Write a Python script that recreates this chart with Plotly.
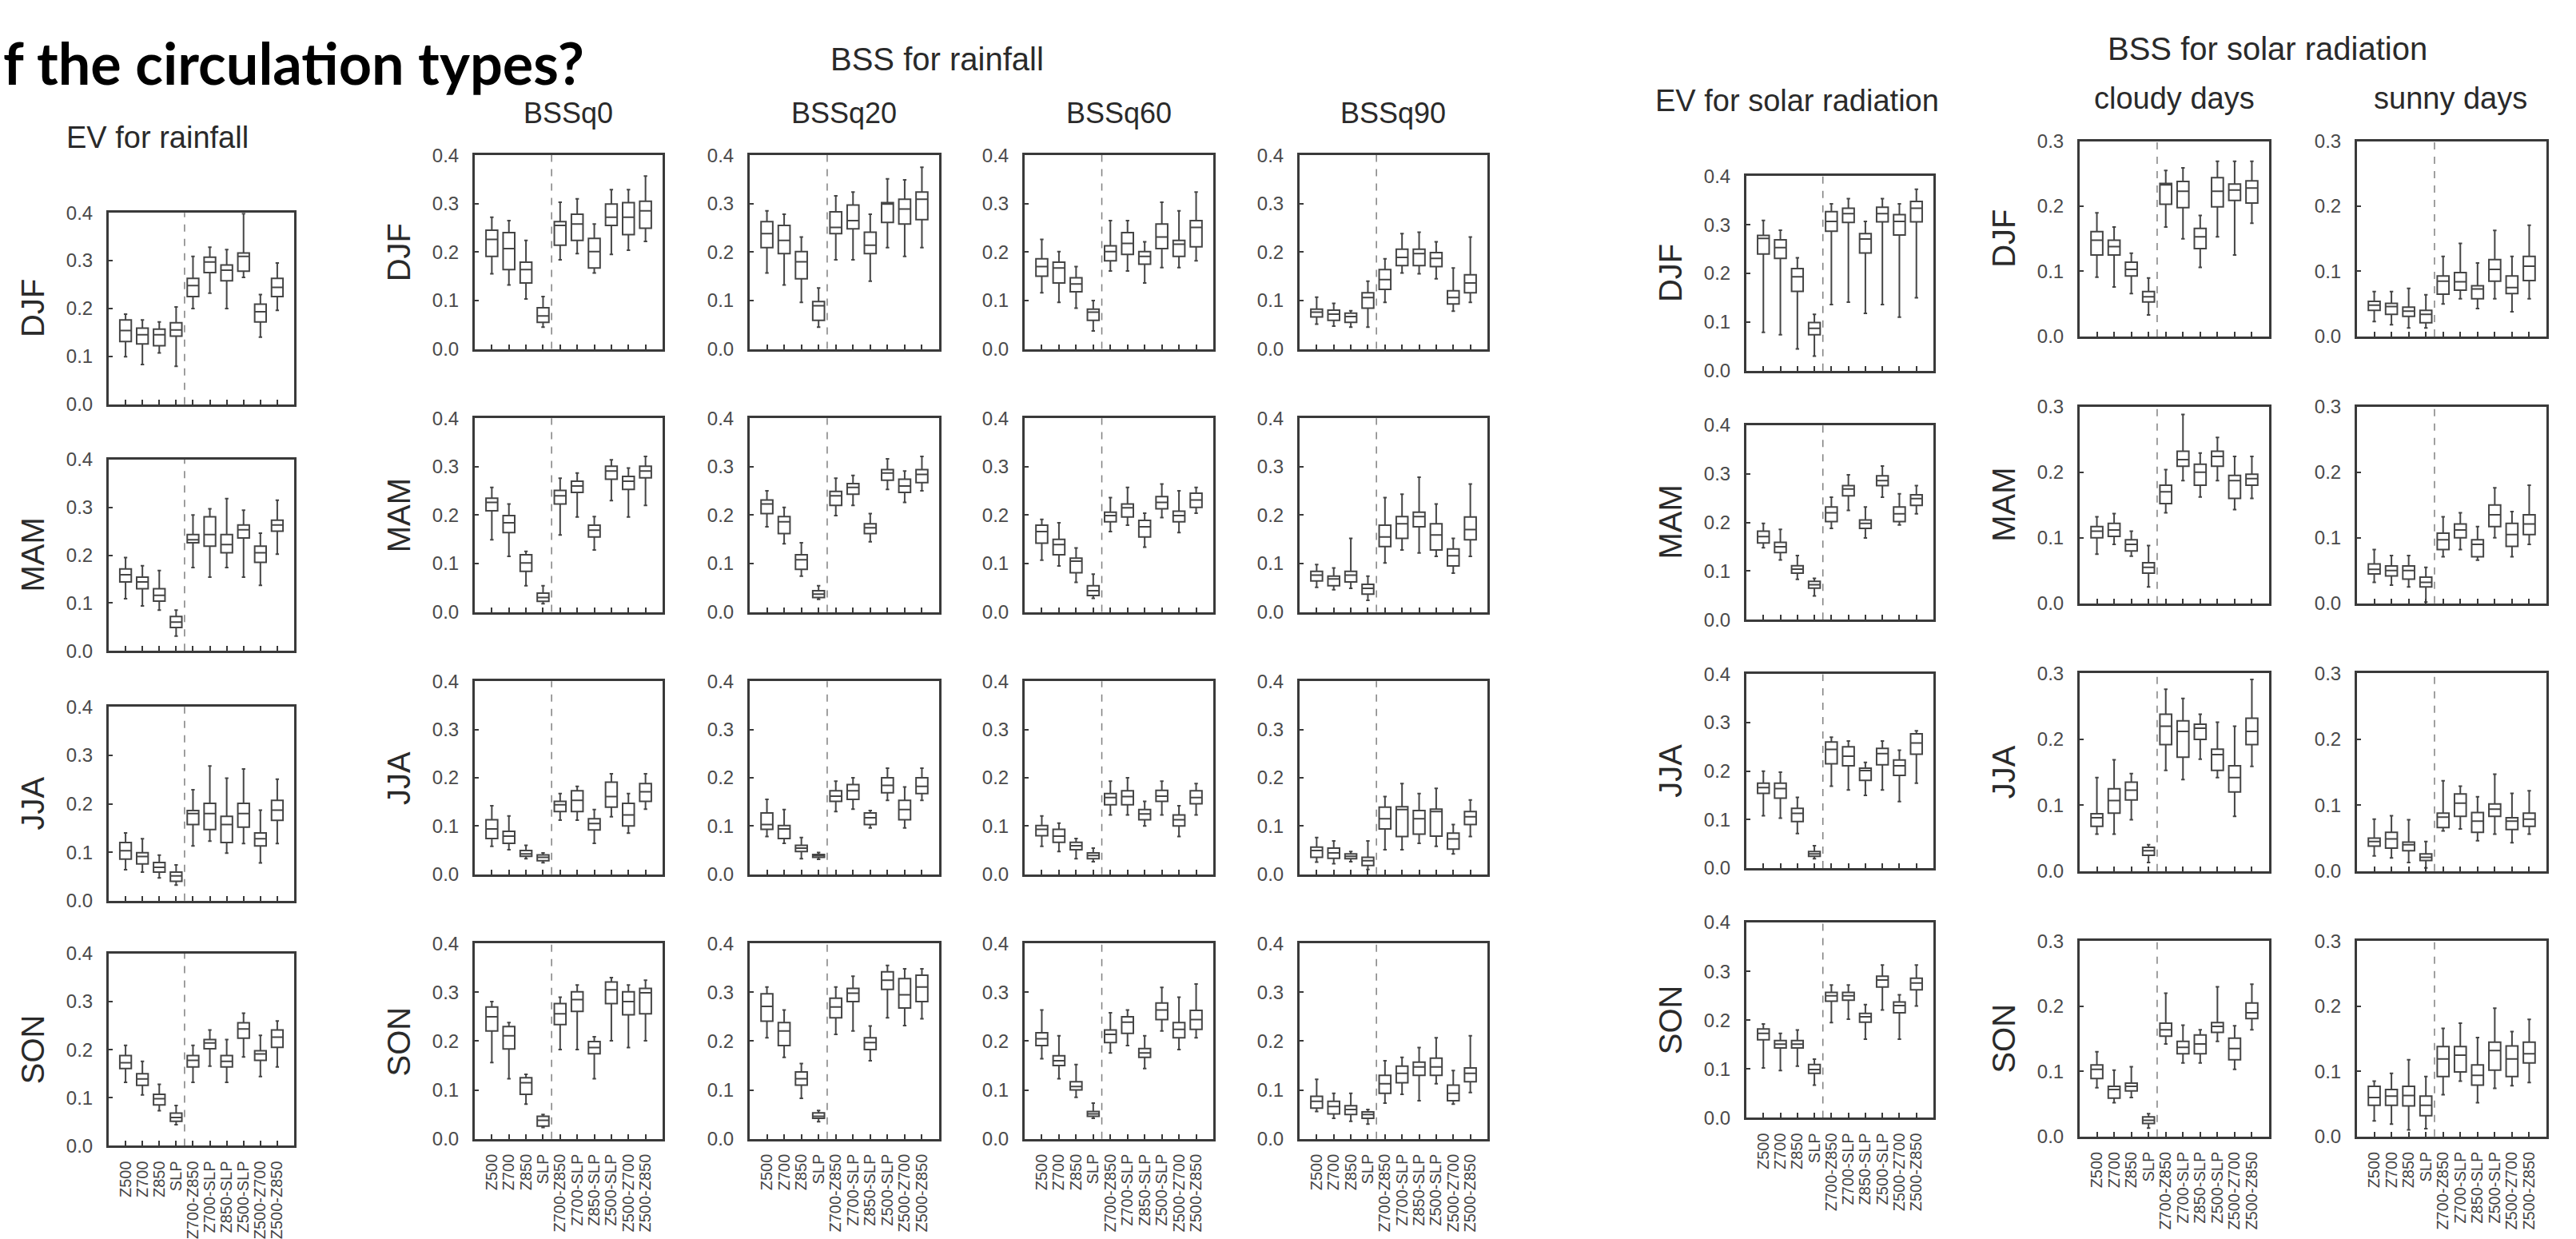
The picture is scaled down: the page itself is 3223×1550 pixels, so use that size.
import plotly.graph_objects as go

W, H = 3223, 1550

categories = ["Z500", "Z700", "Z850", "SLP", "Z700-Z850", "Z700-SLP",
              "Z850-SLP", "Z500-SLP", "Z500-Z700", "Z500-Z850"]
y_ticks_04 = [0.0, 0.1, 0.2, 0.3, 0.4]
y_ticks_03 = [0.0, 0.1, 0.2, 0.3]
seasons = ["DJF", "MAM", "JJA", "SON"]

# each row: (lower whisker, q1, median, q3, upper whisker)
ev_rain_djf = [(0.099,0.131,0.154,0.176,0.188),(0.083,0.126,0.145,0.159,0.176),(0.107,0.122,0.145,0.157,0.172),(0.079,0.142,0.155,0.170,0.203),(0.200,0.225,0.248,0.263,0.309),(0.232,0.275,0.297,0.307,0.328),(0.200,0.258,0.280,0.291,0.323),(0.265,0.278,0.309,0.316,0.398),(0.140,0.172,0.193,0.209,0.229),(0.196,0.225,0.244,0.263,0.295)]
ev_rain_mam = [(0.109,0.144,0.159,0.171,0.195),(0.094,0.130,0.144,0.154,0.178),(0.085,0.104,0.116,0.130,0.168),(0.031,0.049,0.060,0.072,0.085),(0.174,0.226,0.232,0.243,0.284),(0.154,0.219,0.243,0.280,0.297),(0.174,0.205,0.222,0.243,0.318),(0.154,0.236,0.253,0.263,0.294),(0.137,0.185,0.205,0.219,0.246),(0.202,0.250,0.263,0.273,0.315)]
ev_rain_jja = [(0.064,0.086,0.103,0.120,0.140),(0.059,0.076,0.091,0.099,0.128),(0.047,0.059,0.069,0.079,0.094),(0.032,0.040,0.051,0.059,0.074),(0.113,0.157,0.180,0.186,0.229),(0.123,0.147,0.180,0.201,0.278),(0.098,0.120,0.157,0.174,0.253),(0.118,0.152,0.180,0.201,0.272),(0.078,0.113,0.128,0.140,0.187),(0.118,0.166,0.187,0.207,0.251)]
ev_rain_son = [(0.132,0.161,0.173,0.188,0.209),(0.106,0.126,0.139,0.150,0.176),(0.073,0.085,0.098,0.107,0.128),(0.044,0.051,0.059,0.068,0.084),(0.132,0.164,0.178,0.188,0.209),(0.166,0.202,0.214,0.221,0.241),(0.132,0.164,0.176,0.188,0.221),(0.185,0.224,0.243,0.256,0.276),(0.144,0.178,0.191,0.198,0.230),(0.164,0.205,0.226,0.241,0.260)]

bss_q0_djf = [(0.155,0.191,0.226,0.245,0.272),(0.132,0.164,0.207,0.240,0.265),(0.103,0.136,0.164,0.179,0.224),(0.045,0.055,0.068,0.085,0.108),(0.184,0.214,0.255,0.263,0.303),(0.197,0.224,0.258,0.278,0.310),(0.157,0.167,0.201,0.228,0.258),(0.195,0.255,0.272,0.299,0.329),(0.204,0.236,0.272,0.302,0.329),(0.222,0.249,0.285,0.305,0.357)]
bss_q0_mam = [(0.149,0.209,0.226,0.235,0.257),(0.115,0.164,0.184,0.199,0.223),(0.054,0.084,0.101,0.118,0.125),(0.017,0.022,0.030,0.039,0.054),(0.159,0.223,0.240,0.251,0.276),(0.196,0.247,0.260,0.270,0.287),(0.128,0.155,0.169,0.179,0.197),(0.230,0.274,0.291,0.301,0.314),(0.196,0.253,0.270,0.280,0.297),(0.220,0.277,0.291,0.301,0.321)]
bss_q0_jja = [(0.058,0.074,0.094,0.113,0.142),(0.051,0.064,0.079,0.089,0.121),(0.032,0.037,0.042,0.049,0.060),(0.024,0.028,0.035,0.040,0.044),(0.112,0.130,0.144,0.151,0.167),(0.112,0.130,0.153,0.173,0.182),(0.064,0.092,0.105,0.115,0.134),(0.119,0.139,0.161,0.191,0.208),(0.085,0.100,0.123,0.147,0.167),(0.135,0.151,0.171,0.188,0.208)]
bss_q0_son = [(0.156,0.221,0.250,0.270,0.281),(0.123,0.184,0.211,0.230,0.238),(0.071,0.091,0.115,0.125,0.132),(0.023,0.026,0.038,0.046,0.050),(0.183,0.234,0.256,0.277,0.290),(0.183,0.261,0.285,0.301,0.315),(0.123,0.174,0.187,0.199,0.209),(0.201,0.277,0.305,0.321,0.330),(0.187,0.254,0.281,0.301,0.315),(0.201,0.256,0.299,0.308,0.325)]

bss_q20_djf = [(0.157,0.209,0.238,0.263,0.285),(0.132,0.197,0.224,0.255,0.278),(0.096,0.145,0.180,0.201,0.231),(0.045,0.059,0.089,0.098,0.126),(0.184,0.238,0.251,0.283,0.316),(0.184,0.248,0.265,0.297,0.324),(0.140,0.197,0.214,0.241,0.278),(0.209,0.261,0.299,0.302,0.351),(0.191,0.258,0.289,0.309,0.349),(0.209,0.267,0.309,0.324,0.375)]
bss_q20_mam = [(0.176,0.203,0.223,0.231,0.250),(0.141,0.162,0.186,0.197,0.216),(0.074,0.088,0.108,0.118,0.143),(0.026,0.030,0.037,0.044,0.054),(0.199,0.220,0.240,0.249,0.276),(0.220,0.243,0.257,0.265,0.282),(0.145,0.162,0.174,0.182,0.203),(0.253,0.272,0.287,0.294,0.316),(0.226,0.247,0.260,0.274,0.291),(0.250,0.267,0.284,0.294,0.321)]
bss_q20_jja = [(0.078,0.093,0.103,0.127,0.155),(0.064,0.074,0.094,0.101,0.134),(0.032,0.047,0.054,0.060,0.076),(0.031,0.035,0.039,0.041,0.045),(0.130,0.151,0.162,0.173,0.193),(0.135,0.155,0.173,0.186,0.200),(0.096,0.103,0.117,0.127,0.132),(0.153,0.169,0.184,0.200,0.220),(0.096,0.113,0.134,0.153,0.181),(0.153,0.167,0.182,0.200,0.220)]
bss_q20_son = [(0.207,0.241,0.271,0.297,0.311),(0.167,0.191,0.221,0.238,0.264),(0.083,0.110,0.123,0.137,0.154),(0.035,0.042,0.046,0.053,0.058),(0.214,0.248,0.270,0.288,0.311),(0.221,0.281,0.298,0.308,0.333),(0.160,0.183,0.197,0.207,0.231),(0.248,0.306,0.325,0.342,0.355),(0.232,0.268,0.295,0.328,0.348),(0.246,0.281,0.311,0.335,0.348)]

bss_q60_djf = [(0.116,0.150,0.170,0.186,0.226),(0.096,0.136,0.167,0.179,0.201),(0.084,0.118,0.134,0.147,0.170),(0.037,0.059,0.076,0.082,0.100),(0.161,0.182,0.201,0.213,0.265),(0.161,0.195,0.218,0.240,0.265),(0.136,0.175,0.191,0.201,0.221),(0.168,0.207,0.231,0.258,0.303),(0.168,0.191,0.216,0.224,0.285),(0.182,0.211,0.251,0.265,0.324)]
bss_q60_mam = [(0.107,0.142,0.166,0.179,0.191),(0.095,0.118,0.139,0.150,0.184),(0.061,0.081,0.105,0.111,0.132),(0.028,0.034,0.044,0.054,0.078),(0.166,0.186,0.199,0.206,0.236),(0.179,0.196,0.215,0.223,0.257),(0.134,0.155,0.176,0.189,0.204),(0.195,0.213,0.226,0.238,0.264),(0.164,0.186,0.199,0.208,0.250),(0.204,0.216,0.231,0.245,0.257)]
bss_q60_jja = [(0.058,0.080,0.093,0.101,0.121),(0.047,0.066,0.079,0.093,0.106),(0.032,0.051,0.059,0.066,0.074),(0.026,0.032,0.039,0.044,0.054),(0.123,0.144,0.159,0.167,0.193),(0.123,0.144,0.161,0.173,0.200),(0.100,0.113,0.125,0.134,0.151),(0.123,0.151,0.162,0.174,0.193),(0.078,0.100,0.113,0.123,0.142),(0.123,0.146,0.159,0.173,0.188)]
bss_q60_son = [(0.164,0.191,0.205,0.217,0.264),(0.123,0.150,0.160,0.170,0.211),(0.085,0.100,0.107,0.117,0.152),(0.042,0.046,0.051,0.056,0.073),(0.176,0.197,0.214,0.223,0.258),(0.191,0.216,0.239,0.250,0.264),(0.144,0.167,0.176,0.185,0.211),(0.221,0.244,0.264,0.278,0.310),(0.183,0.207,0.224,0.238,0.290),(0.207,0.224,0.244,0.263,0.317)]

bss_q90_djf = [(0.051,0.066,0.076,0.082,0.107),(0.047,0.059,0.072,0.080,0.094),(0.045,0.055,0.067,0.074,0.079),(0.045,0.084,0.106,0.116,0.140),(0.096,0.123,0.143,0.164,0.186),(0.157,0.172,0.189,0.206,0.238),(0.155,0.172,0.197,0.206,0.241),(0.145,0.170,0.187,0.199,0.221),(0.078,0.093,0.106,0.120,0.167),(0.096,0.116,0.136,0.153,0.231)]
bss_q90_mam = [(0.051,0.064,0.076,0.084,0.098),(0.046,0.054,0.068,0.074,0.091),(0.049,0.062,0.076,0.084,0.152),(0.024,0.037,0.049,0.057,0.074),(0.101,0.135,0.155,0.179,0.236),(0.128,0.152,0.182,0.197,0.243),(0.122,0.176,0.197,0.206,0.278),(0.115,0.128,0.159,0.182,0.223),(0.080,0.095,0.116,0.130,0.152),(0.115,0.149,0.170,0.196,0.264)]
bss_q90_jja = [(0.025,0.035,0.049,0.056,0.076),(0.022,0.033,0.044,0.054,0.069),(0.026,0.032,0.037,0.042,0.047),(0.010,0.018,0.028,0.035,0.069),(0.051,0.094,0.115,0.139,0.161),(0.051,0.078,0.134,0.140,0.188),(0.064,0.083,0.115,0.132,0.167),(0.058,0.079,0.130,0.135,0.178),(0.042,0.052,0.073,0.085,0.103),(0.078,0.103,0.119,0.130,0.154)]
bss_q90_son = [(0.056,0.063,0.077,0.087,0.122),(0.042,0.051,0.066,0.077,0.093),(0.036,0.050,0.060,0.068,0.093),(0.030,0.042,0.050,0.055,0.060),(0.073,0.093,0.113,0.130,0.160),(0.091,0.115,0.134,0.149,0.167),(0.078,0.130,0.147,0.157,0.187),(0.113,0.130,0.147,0.165,0.207),(0.071,0.078,0.093,0.110,0.140),(0.095,0.117,0.134,0.145,0.211)]

ev_solar_djf = [(0.079,0.240,0.272,0.278,0.309),(0.074,0.231,0.253,0.269,0.289),(0.045,0.163,0.193,0.210,0.232),(0.030,0.074,0.087,0.099,0.116),(0.136,0.287,0.307,0.327,0.343),(0.141,0.305,0.323,0.334,0.354),(0.118,0.242,0.271,0.282,0.307),(0.136,0.306,0.323,0.336,0.354),(0.110,0.279,0.307,0.321,0.343),(0.150,0.306,0.334,0.348,0.373)]
ev_solar_mam = [(0.148,0.158,0.171,0.182,0.198),(0.123,0.138,0.150,0.159,0.186),(0.083,0.096,0.104,0.111,0.132),(0.049,0.065,0.072,0.079,0.085),(0.188,0.202,0.220,0.232,0.252),(0.225,0.255,0.269,0.276,0.298),(0.168,0.188,0.198,0.205,0.232),(0.252,0.276,0.286,0.296,0.316),(0.195,0.202,0.218,0.232,0.259),(0.218,0.235,0.249,0.257,0.276)]
ev_solar_jja = [(0.108,0.154,0.166,0.175,0.200),(0.103,0.144,0.164,0.175,0.198),(0.071,0.096,0.113,0.123,0.146),(0.019,0.024,0.029,0.034,0.046),(0.169,0.215,0.245,0.260,0.270),(0.161,0.211,0.231,0.250,0.262),(0.150,0.181,0.201,0.206,0.218),(0.161,0.213,0.236,0.247,0.262),(0.137,0.191,0.211,0.223,0.243),(0.175,0.235,0.258,0.277,0.283)]
ev_solar_son = [(0.102,0.160,0.173,0.182,0.192),(0.097,0.143,0.151,0.158,0.173),(0.106,0.143,0.151,0.158,0.180),(0.067,0.091,0.099,0.109,0.120),(0.195,0.239,0.250,0.257,0.272),(0.202,0.241,0.250,0.257,0.272),(0.161,0.196,0.207,0.214,0.232),(0.221,0.268,0.282,0.290,0.313),(0.161,0.215,0.230,0.237,0.252),(0.229,0.262,0.276,0.286,0.313)]

cloudy_djf = [(0.091,0.125,0.148,0.161,0.190),(0.076,0.125,0.138,0.148,0.168),(0.066,0.093,0.103,0.114,0.128),(0.033,0.053,0.061,0.069,0.090),(0.168,0.203,0.233,0.235,0.255),(0.150,0.198,0.223,0.238,0.259),(0.106,0.135,0.153,0.166,0.186),(0.153,0.199,0.223,0.244,0.269),(0.125,0.209,0.225,0.234,0.269),(0.174,0.205,0.228,0.239,0.269)]
cloudy_mam = [(0.075,0.100,0.110,0.117,0.132),(0.090,0.102,0.112,0.122,0.137),(0.072,0.080,0.090,0.097,0.110),(0.025,0.046,0.055,0.062,0.088),(0.138,0.152,0.170,0.180,0.204),(0.187,0.209,0.219,0.232,0.288),(0.162,0.180,0.200,0.212,0.229),(0.187,0.209,0.224,0.232,0.253),(0.143,0.160,0.187,0.195,0.224),(0.160,0.180,0.190,0.197,0.224)]
cloudy_jja = [(0.056,0.068,0.081,0.087,0.142),(0.056,0.088,0.107,0.125,0.169),(0.078,0.108,0.123,0.135,0.148),(0.013,0.024,0.031,0.036,0.040),(0.153,0.192,0.220,0.238,0.276),(0.139,0.173,0.212,0.228,0.262),(0.170,0.200,0.217,0.223,0.238),(0.142,0.153,0.177,0.185,0.226),(0.083,0.120,0.142,0.160,0.220),(0.159,0.192,0.212,0.232,0.291)]
cloudy_son = [(0.075,0.089,0.103,0.110,0.130),(0.052,0.059,0.072,0.077,0.102),(0.060,0.070,0.077,0.082,0.107),(0.013,0.020,0.025,0.030,0.035),(0.142,0.154,0.164,0.174,0.220),(0.113,0.127,0.137,0.146,0.171),(0.113,0.127,0.142,0.156,0.164),(0.146,0.160,0.169,0.175,0.230),(0.103,0.118,0.135,0.151,0.170),(0.164,0.181,0.190,0.205,0.234)]

sunny_djf = [(0.023,0.040,0.048,0.054,0.069),(0.018,0.034,0.046,0.051,0.069),(0.013,0.031,0.039,0.045,0.074),(0.013,0.021,0.034,0.040,0.064),(0.050,0.065,0.085,0.093,0.123),(0.058,0.071,0.084,0.098,0.143),(0.043,0.058,0.073,0.078,0.113),(0.058,0.085,0.103,0.118,0.163),(0.038,0.066,0.075,0.093,0.123),(0.058,0.086,0.108,0.123,0.171)]
sunny_mam = [(0.032,0.045,0.052,0.060,0.082),(0.028,0.042,0.050,0.057,0.073),(0.025,0.037,0.050,0.057,0.073),(0.002,0.025,0.032,0.040,0.055),(0.071,0.082,0.097,0.107,0.132),(0.082,0.100,0.112,0.121,0.138),(0.066,0.071,0.090,0.097,0.117),(0.100,0.117,0.135,0.150,0.176),(0.071,0.087,0.105,0.122,0.140),(0.090,0.105,0.121,0.135,0.180)]
sunny_jja = [(0.023,0.038,0.045,0.050,0.079),(0.020,0.035,0.049,0.059,0.084),(0.013,0.031,0.040,0.044,0.078),(0.005,0.016,0.021,0.026,0.045),(0.061,0.066,0.082,0.088,0.137),(0.064,0.083,0.103,0.117,0.129),(0.046,0.059,0.076,0.089,0.113),(0.056,0.083,0.094,0.102,0.147),(0.043,0.063,0.076,0.081,0.118),(0.056,0.068,0.079,0.088,0.122)]
sunny_son = [(0.024,0.048,0.060,0.077,0.085),(0.019,0.048,0.062,0.072,0.097),(0.010,0.047,0.063,0.077,0.118),(0.012,0.032,0.048,0.062,0.092),(0.064,0.092,0.119,0.138,0.166),(0.085,0.099,0.125,0.138,0.174),(0.052,0.079,0.094,0.110,0.152),(0.074,0.102,0.132,0.145,0.197),(0.078,0.092,0.119,0.139,0.161),(0.083,0.113,0.127,0.145,0.180)]

# ---------------- layout (pixel geometry) ----------------
ROWS_EVR = [(259, 505), (576, 822), (894, 1143), (1211, 1458)]
ROWS_BSSR = [(185, 434), (523, 772), (861, 1109), (1198, 1449)]
ROWS_EVS = [(212, 462), (532, 782), (852, 1101), (1171, 1422)]
ROWS_BSSS = [(167, 418), (508, 761), (851, 1105), (1195, 1446)]

columns = [
    dict(data=[ev_rain_djf, ev_rain_mam, ev_rain_jja, ev_rain_son], x=(136, 368), rows=ROWS_EVR, ticks=y_ticks_04, label_x=41),
    dict(data=[bss_q0_djf, bss_q0_mam, bss_q0_jja, bss_q0_son], x=(594, 829), rows=ROWS_BSSR, ticks=y_ticks_04, label_x=499),
    dict(data=[bss_q20_djf, bss_q20_mam, bss_q20_jja, bss_q20_son], x=(938, 1175), rows=ROWS_BSSR, ticks=y_ticks_04, label_x=None),
    dict(data=[bss_q60_djf, bss_q60_mam, bss_q60_jja, bss_q60_son], x=(1282, 1518), rows=ROWS_BSSR, ticks=y_ticks_04, label_x=None),
    dict(data=[bss_q90_djf, bss_q90_mam, bss_q90_jja, bss_q90_son], x=(1626, 1861), rows=ROWS_BSSR, ticks=y_ticks_04, label_x=None),
    dict(data=[ev_solar_djf, ev_solar_mam, ev_solar_jja, ev_solar_son], x=(2185, 2419), rows=ROWS_EVS, ticks=y_ticks_04, label_x=2090),
    dict(data=[cloudy_djf, cloudy_mam, cloudy_jja, cloudy_son], x=(2602, 2839), rows=ROWS_BSSS, ticks=y_ticks_03, label_x=2507),
    dict(data=[sunny_djf, sunny_mam, sunny_jja, sunny_son], x=(2949, 3186), rows=ROWS_BSSS, ticks=y_ticks_03, label_x=None),
]

FONT = "Liberation Sans, Arial, sans-serif"
FRAME = "#3a3a3a"
BOXC = "#454545"

fig = go.Figure()
layout = {}
shapes = []
annotations = []
positions = list(range(1, len(categories) + 1))

k = 0
for ci, col in enumerate(columns):
    for ri in range(4):
        k += 1
        xa = "x" if k == 1 else f"x{k}"
        ya = "y" if k == 1 else f"y{k}"
        xkey = "xaxis" if k == 1 else f"xaxis{k}"
        ykey = "yaxis" if k == 1 else f"yaxis{k}"
        x0, x1 = col["x"]
        y0, y1 = col["rows"][ri]
        d = col["data"][ri]
        fig.add_trace(go.Box(
            x=positions,
            lowerfence=[v[0] for v in d], q1=[v[1] for v in d], median=[v[2] for v in d],
            q3=[v[3] for v in d], upperfence=[v[4] for v in d],
            xaxis=xa, yaxis=ya, fillcolor="white",
            line=dict(color=BOXC, width=2), width=0.68, whiskerwidth=0.3,
            boxpoints=False, showlegend=False, hoverinfo="skip"))
        layout[xkey] = dict(
            domain=[x0 / W, x1 / W], range=[0, 11], anchor=ya,
            tickmode="array", tickvals=positions, ticktext=categories,
            showticklabels=(ri == 3), tickangle=-90,
            tickfont=dict(family=FONT, size=20, color="#444"),
            ticklabelstandoff=8,
            ticks="inside", ticklen=6, tickwidth=2, tickcolor=FRAME,
            showline=True, mirror=True, linecolor=FRAME, linewidth=3,
            showgrid=False, zeroline=False, fixedrange=True)
        yt = col["ticks"]
        layout[ykey] = dict(
            domain=[1 - y1 / H, 1 - y0 / H], range=[0, yt[-1]], anchor=xa,
            tickmode="array", tickvals=yt, ticktext=[f"{t:.1f}" for t in yt],
            tickfont=dict(family=FONT, size=24, color="#4a4a4a"),
            ticks="inside", ticklen=5, tickwidth=2, tickcolor=FRAME,
            ticklabelstandoff=12,
            showline=True, mirror=True, linecolor=FRAME, linewidth=3,
            showgrid=False, zeroline=False, fixedrange=True)
        shapes.append(dict(type="line", xref=xa, yref=f"{ya} domain", x0=4.5, x1=4.5,
                           y0=0, y1=1, layer="below",
                           line=dict(color="#808080", width=1.5, dash="dash")))
        if col["label_x"] is not None:
            annotations.append(dict(
                text=seasons[ri], xref="paper", yref="paper",
                x=col["label_x"] / W, y=1 - (y0 + y1) / 2 / H,
                xanchor="center", yanchor="middle", textangle=-90, showarrow=False,
                font=dict(family=FONT, size=40, color="#2a2a2a")))

titles = [
    ("EV for rainfall", 197, 162, 38),
    ("BSS for rainfall", 1172, 62, 40),
    ("BSSq0", 711, 131, 36),
    ("BSSq20", 1056, 131, 36),
    ("BSSq60", 1400, 131, 36),
    ("BSSq90", 1743, 131, 36),
    ("BSS for solar radiation", 2837, 48, 40),
    ("EV for solar radiation", 2248, 115, 38),
    ("cloudy days", 2720, 112, 38),
    ("sunny days", 3066, 112, 38),
]
for text, px, py, fs in titles:
    annotations.append(dict(text=text, xref="paper", yref="paper", x=px / W, y=1 - py / H,
                            xanchor="center", yanchor="middle", showarrow=False,
                            font=dict(family=FONT, size=fs, color="#2a2a2a")))

annotations.append(dict(text="<b>f the circulation types?</b>", xref="paper", yref="paper",
                        x=2 / W, y=1 - 66 / H, xanchor="left", yanchor="middle",
                        showarrow=False,
                        font=dict(family="Lato, Open Sans, sans-serif", size=72, color="#000")))

fig.update_layout(width=W, height=H, margin=dict(l=0, r=0, t=0, b=0),
                  paper_bgcolor="white", plot_bgcolor="white",
                  shapes=shapes, annotations=annotations, showlegend=False, **layout)

fig.write_html("out.html", config={"displayModeBar": False},
               post_script="document.body.style.margin='0';")
